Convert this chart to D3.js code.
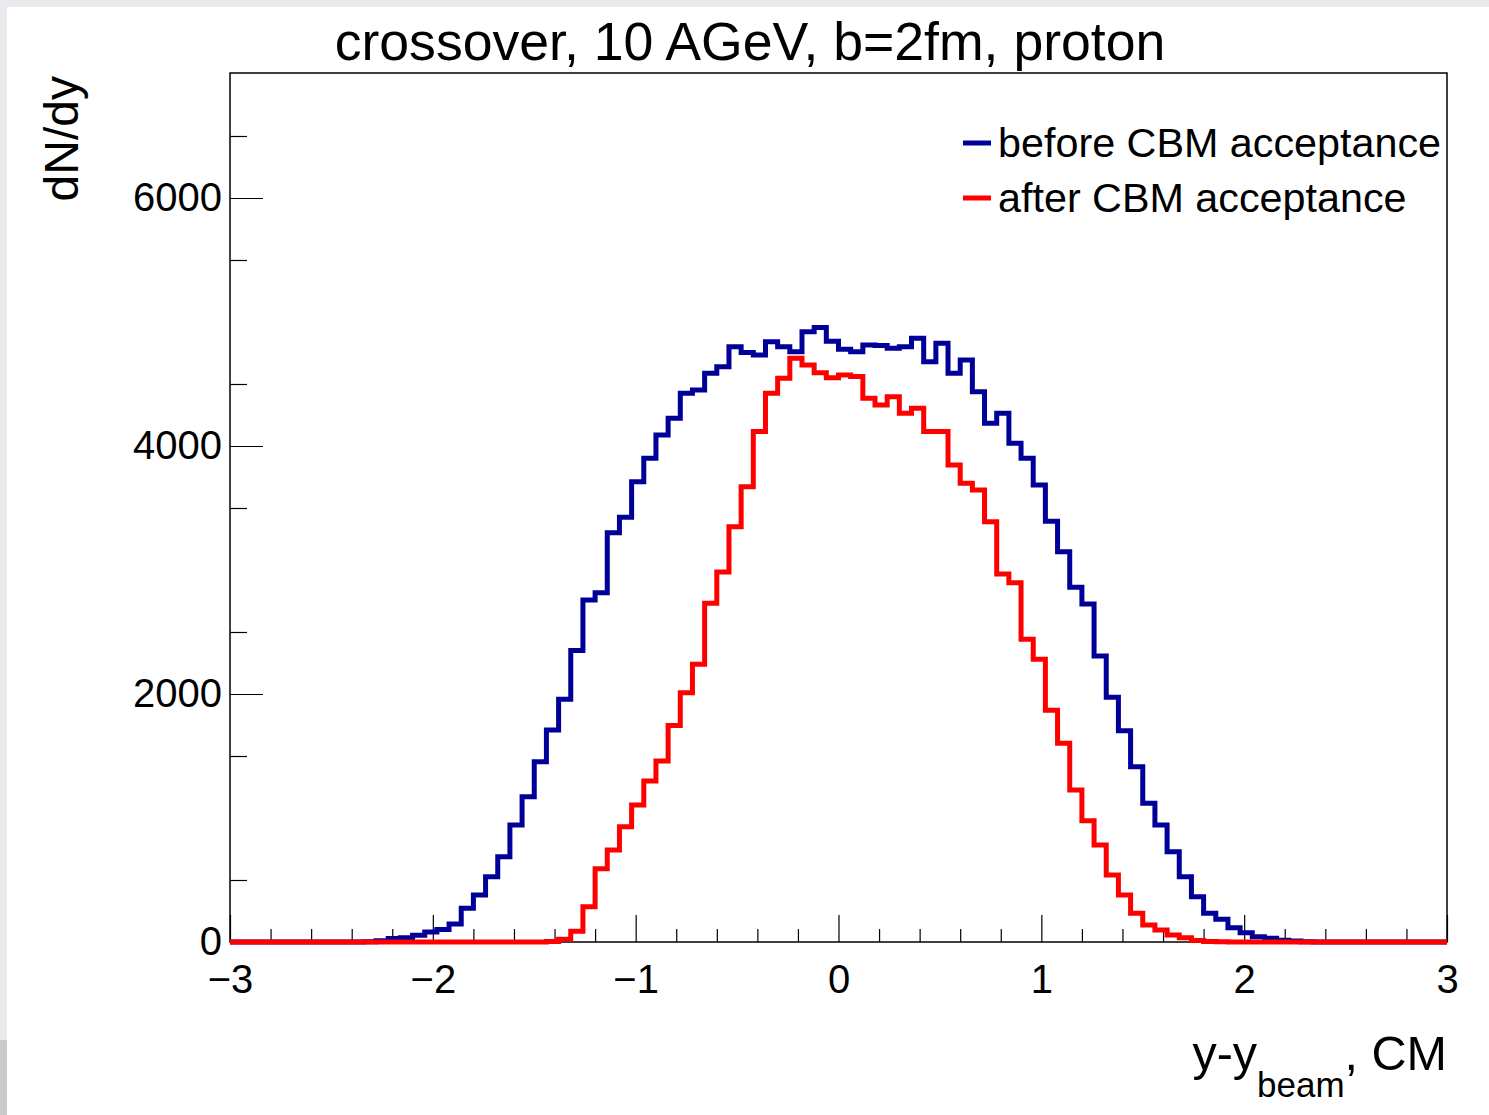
<!DOCTYPE html>
<html>
<head>
<meta charset="utf-8">
<script src="https://cdn.jsdelivr.net/npm/d3@7"></script>
<style>
  html, body { margin: 0; padding: 0; background: #e9eaed; }
  svg { display: block; }
  text { font-family: "Liberation Sans", Arial, Helvetica, sans-serif; fill: #000; }
</style>
</head>
<body>
<svg id="port" width="1489" height="1115"></svg>
<script>
// histogram binning: 100 bins from -3 to 3
var xMin = -3, xMax = 3, nBins = 100;

// dN/dy per bin
var beforeCounts = [
  0, 0, 0, 0, 0, 0, 0, 0, 0, 0,
  0, 3, 10, 28, 35, 55, 80, 100, 145, 272,
  379, 527, 688, 944, 1172, 1454, 1710, 1957, 2350, 2758,
  2817, 3301, 3425, 3712, 3901, 4089, 4224, 4425, 4452, 4587,
  4640, 4801, 4753, 4734, 4841, 4801, 4761, 4922, 4955, 4845,
  4780, 4761, 4815, 4810, 4788, 4801, 4869, 4680, 4828, 4587,
  4694, 4438, 4183, 4264, 4022, 3901, 3686, 3394, 3148, 2861,
  2726, 2307, 1974, 1704, 1414, 1118, 944, 728, 527, 365,
  231, 183, 115, 75, 43, 30, 15, 8, 3, 0,
  0, 0, 0, 0, 0, 0, 0, 0, 0, 0
];
var afterCounts = [
  0, 0, 0, 0, 0, 0, 0, 0, 0, 0,
  0, 0, 0, 0, 0, 0, 0, 0, 0, 0,
  0, 0, 0, 0, 0, 0, 5, 22, 87, 285,
  590, 742, 930, 1105, 1298, 1460, 1745, 2011, 2240, 2732,
  2984, 3349, 3672, 4116, 4425, 4546, 4707, 4653, 4590, 4550,
  4573, 4560, 4385, 4331, 4398, 4264, 4304, 4116, 4116, 3847,
  3699, 3645, 3390, 2968, 2898, 2441, 2280, 1868, 1602, 1226,
  978, 782, 540, 379, 231, 137, 97, 56, 35, 12,
  5, 2, 0, 0, 0, 0, 0, 0, 0, 0,
  0, 0, 0, 0, 0, 0, 0, 0, 0, 0
];

var xTicks = [-3, -2, -1, 0, 1, 2, 3];
var yTicks = [0, 2000, 4000, 6000];
var yTop = 7008;
var seriesNames = ['before CBM acceptance', 'after CBM acceptance'];
var seriesColors = ['#000099', '#ff0000'];
var titleText = 'crossover, 10 AGeV, b=2fm, proton';

var svg = d3.select('#port');

// canvas (screenshot has a thin grey border)
svg.append('rect').attr('x', 7).attr('y', 7).attr('width', 1482).attr('height', 1108).attr('fill', '#fff');
svg.append('rect').attr('x', 0).attr('y', 1040).attr('width', 7).attr('height', 75).attr('fill', '#c9cacd');

var padLeft = 230, padRight = 1447, padTop = 73, padBottom = 942;

var xScale = d3.scaleLinear().domain([xMin, xMax]).range([padLeft, padRight]);
var yScale = d3.scaleLinear().domain([0, yTop]).range([padBottom, padTop]);

var binW = (xMax - xMin) / nBins;

// minor ticks
var xMinor = d3.range(xMin, xMax + 1e-9, 0.2).map(function (d) { return +d.toFixed(2); })
  .filter(function (d) { return Math.abs(d - Math.round(d)) > 1e-6; });
var yMinor = d3.range(500, yTop, 1000);

var xAxisMinor = d3.axisBottom(xScale).tickValues(xMinor).tickFormat('').tickSizeInner(-13).tickSizeOuter(0);
var xAxis = d3.axisBottom(xScale).tickValues(xTicks).tickFormat(d3.format('d')).tickSizeInner(-27).tickSizeOuter(0).tickPadding(23);
var yAxisMinor = d3.axisLeft(yScale).tickValues(yMinor).tickFormat('').tickSizeInner(-17).tickSizeOuter(0);
var yAxis = d3.axisLeft(yScale).tickValues(yTicks).tickFormat(d3.format('d')).tickSizeInner(-33).tickSizeOuter(0).tickPadding(8);

function styleAxis(g) {
  g.select('.domain').remove();
  g.selectAll('line').attr('stroke', '#000').attr('stroke-width', 1.2);
  g.selectAll('text').attr('font-size', 40).attr('font-family', '"Liberation Sans", Arial, sans-serif').attr('fill', '#000');
}

svg.append('g').attr('transform', 'translate(0,' + padBottom + ')').call(xAxisMinor).call(styleAxis);
svg.append('g').attr('transform', 'translate(0,' + padBottom + ')').call(xAxis).call(styleAxis);
svg.append('g').attr('transform', 'translate(' + padLeft + ',0)').call(yAxisMinor).call(styleAxis);
svg.append('g').attr('transform', 'translate(' + padLeft + ',0)').call(yAxis).call(styleAxis);

// frame
svg.append('rect')
  .attr('x', padLeft).attr('y', padTop)
  .attr('width', padRight - padLeft).attr('height', padBottom - padTop)
  .attr('fill', 'none').attr('stroke', '#000').attr('stroke-width', 1.5);

///Drawing the histograms
function histPoints(counts) {
  var pts = counts.map(function (v, i) { return [xMin + i * binW, v]; });
  pts.push([xMax, counts[counts.length - 1]]);
  return pts;
}
var stepLine = d3.line()
  .x(function (d) { return xScale(d[0]); })
  .y(function (d) { return yScale(d[1]); })
  .curve(d3.curveStepAfter);

[beforeCounts, afterCounts].forEach(function (counts, i) {
  svg.append('path')
    .attr('d', stepLine(histPoints(counts)))
    .attr('fill', 'none')
    .attr('stroke', seriesColors[i])
    .attr('stroke-width', 5)
    .attr('stroke-linejoin', 'miter');
});

///Legend
var legend = svg.append('g').attr('transform', 'translate(963,143)');
seriesNames.forEach(function (name, i) {
  var row = legend.append('g').attr('transform', 'translate(0,' + (i * 55) + ')');
  row.append('line').attr('x1', 0).attr('x2', 28).attr('y1', 0).attr('y2', 0)
    .attr('stroke', seriesColors[i]).attr('stroke-width', 5);
  row.append('text').attr('x', 35).attr('y', 14).attr('font-size', 41.3).text(name);
});

///Titles
svg.append('text').attr('x', 750).attr('y', 60).attr('text-anchor', 'middle')
  .attr('font-size', 53.6).text(titleText);

svg.append('text').attr('transform', 'translate(78,76) rotate(-90)')
  .attr('text-anchor', 'end').attr('font-size', 48).text('dN/dy');

var xt = svg.append('text').attr('x', padRight).attr('y', 1070).attr('text-anchor', 'end').attr('font-size', 48.5);
xt.append('tspan').text('y-y');
xt.append('tspan').attr('dy', 27).attr('font-size', 35).text('beam');
xt.append('tspan').attr('dy', -27).text(', CM');
</script>
</body>
</html>
